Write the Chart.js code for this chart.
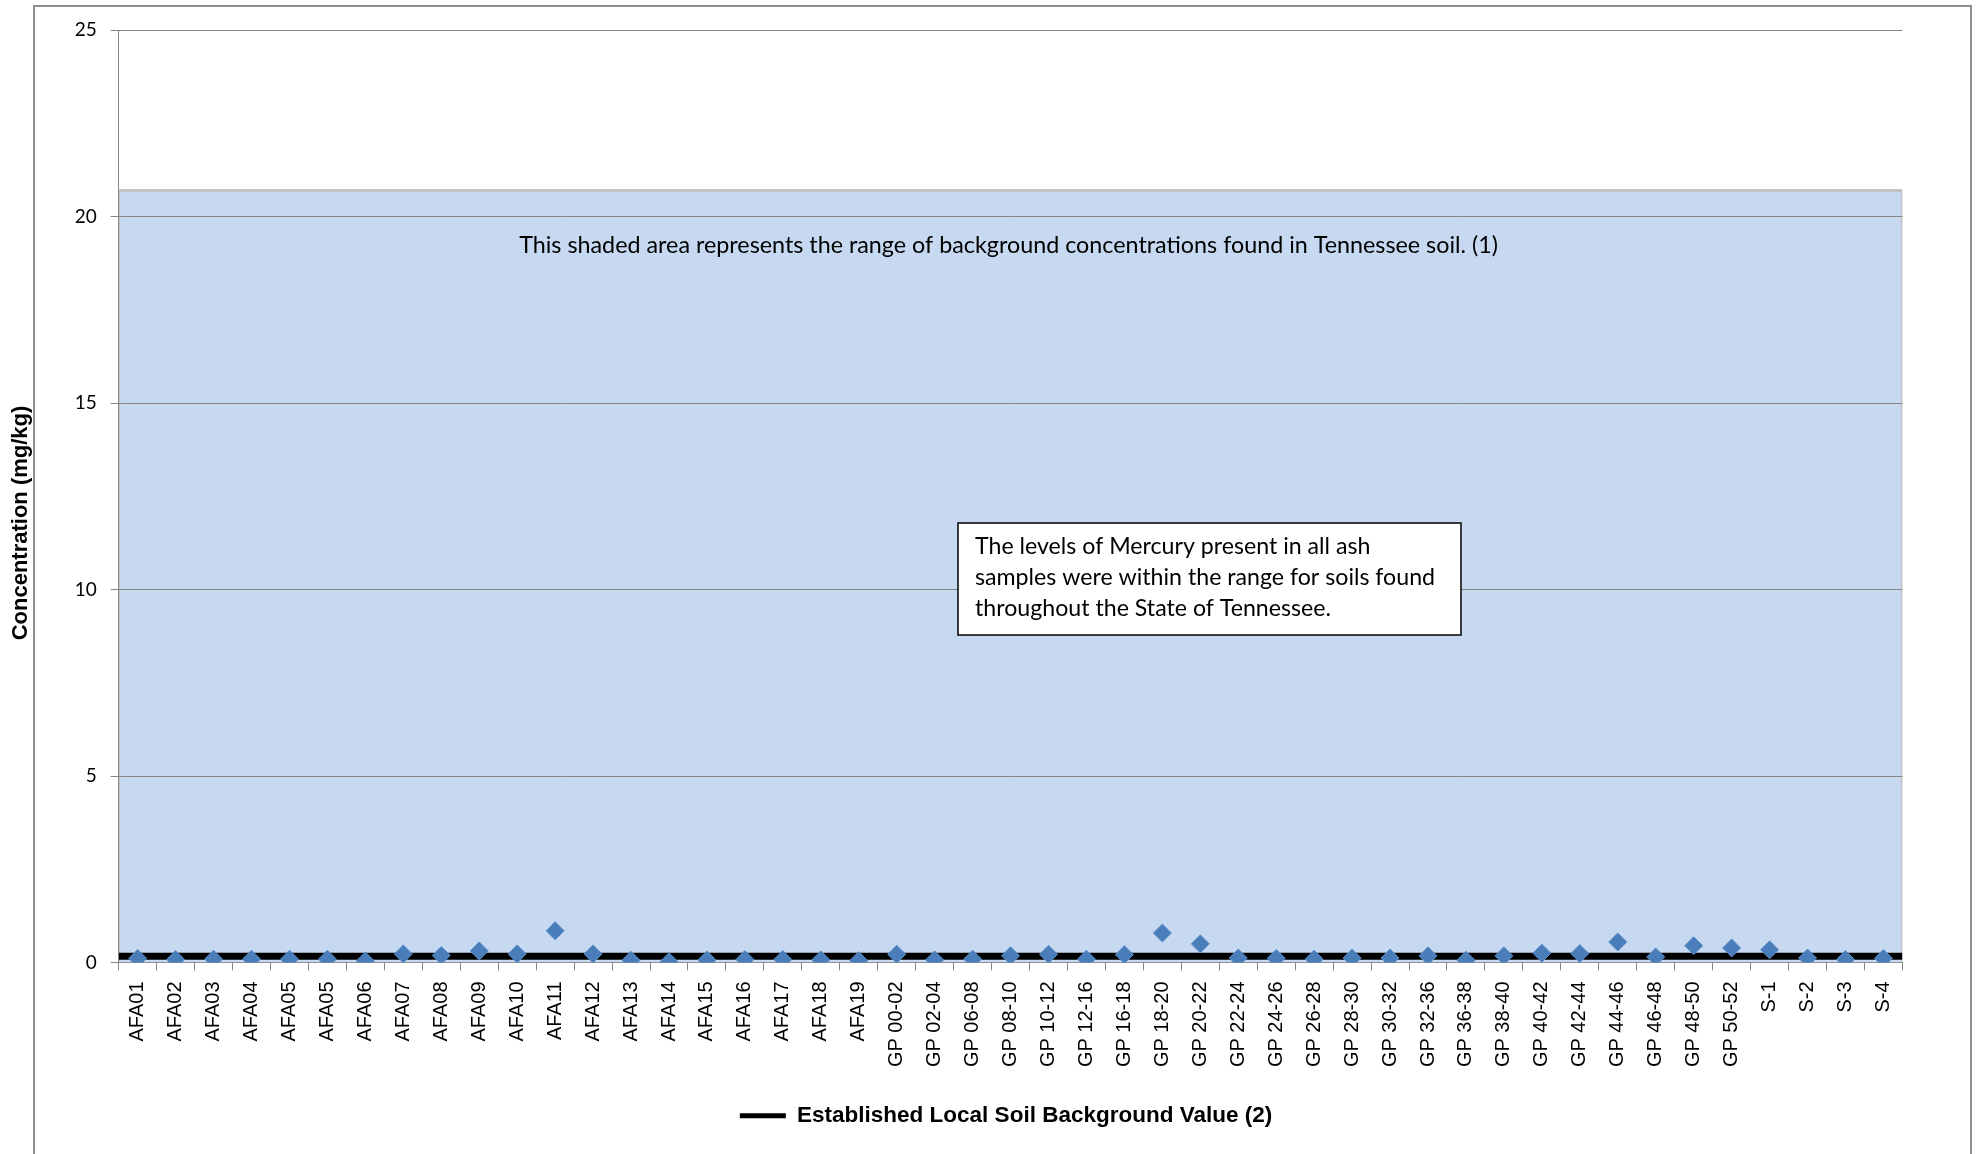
<!DOCTYPE html>
<html>
<head>
<meta charset="utf-8">
<script src="https://cdn.jsdelivr.net/npm/chart.js@4/dist/chart.umd.min.js"></script>
<style>
  html, body { margin: 0; padding: 0; background: #ffffff; }
  #wrap { width: 1979px; height: 1154px; position: relative; }
</style>
</head>
<body>
<div id="wrap"><canvas id="c" width="1979" height="1154"></canvas></div>
<script>
// ---- Data ----
const categories = [
  'AFA01','AFA02','AFA03','AFA04','AFA05','AFA05','AFA06','AFA07','AFA08','AFA09',
  'AFA10','AFA11','AFA12','AFA13','AFA14','AFA15','AFA16','AFA17','AFA18','AFA19',
  'GP 00-02','GP 02-04','GP 06-08','GP 08-10','GP 10-12','GP 12-16','GP 16-18','GP 18-20',
  'GP 20-22','GP 22-24','GP 24-26','GP 26-28','GP 28-30','GP 30-32','GP 32-36','GP 36-38',
  'GP 38-40','GP 40-42','GP 42-44','GP 44-46','GP 46-48','GP 48-50','GP 50-52',
  'S-1','S-2','S-3','S-4'
];
const mercury = [
  0.11, 0.08, 0.09, 0.09, 0.09, 0.09, 0.04, 0.23, 0.19, 0.31,
  0.23, 0.85, 0.23, 0.06, 0.02, 0.07, 0.08, 0.08, 0.07, 0.05,
  0.22, 0.07, 0.09, 0.18, 0.22, 0.09, 0.21, 0.79,
  0.50, 0.12, 0.11, 0.09, 0.12, 0.12, 0.18, 0.06,
  0.18, 0.25, 0.24, 0.55, 0.15, 0.45, 0.39,
  0.34, 0.12, 0.08, 0.11
];
const backgroundValue = 0.17;   // Established Local Soil Background Value (2)
const tennesseeRangeMax = 20.7; // top of shaded range of background concentrations
const yTicks = [0, 5, 10, 15, 20, 25];

const shadedText = 'This shaded area represents the range of background concentrations found in Tennessee soil. (1)';
const noteLines = [
  'The levels of Mercury present in all ash',
  'samples were within the range for soils found',
  'throughout the State of Tennessee.'
];
const legendLabel = 'Established Local Soil Background Value (2)';
const yTitle = 'Concentration (mg/kg)';

// ---- Annotation / frame plugin ----
function fitFont(ctx, text, target, family, weight) {
  ctx.font = (weight || '') + ' 100px ' + family;
  const w = ctx.measureText(text).width;
  return 100 * target / w;
}
const annotations = {
  id: 'annotations',
  beforeDraw(chart) {
    const ctx = chart.ctx;
    ctx.save();
    ctx.fillStyle = '#ffffff';
    ctx.fillRect(0, 0, chart.width, chart.height);
    ctx.restore();
  },
  afterDatasetsDraw(chart) {
    const ctx = chart.ctx;
    const a = chart.chartArea;
    ctx.save();
    const s = fitFont(ctx, shadedText, 979, 'Lato');
    ctx.font = s.toFixed(2) + 'px Lato';
    ctx.fillStyle = '#000000';
    ctx.textAlign = 'center';
    ctx.textBaseline = 'alphabetic';
    ctx.fillText(shadedText, (a.left + a.right) / 2 - 2, 253);
    ctx.restore();
  },
  afterDraw(chart) {
    const ctx = chart.ctx;
    ctx.save();
    // outer frame
    ctx.strokeStyle = '#8e8e8e';
    ctx.lineWidth = 2;
    ctx.beginPath();
    ctx.moveTo(34, 1160);
    ctx.lineTo(34, 6);
    ctx.lineTo(1971, 6);
    ctx.lineTo(1971, 1160);
    ctx.stroke();
    // y-axis title
    ctx.save();
    ctx.translate(21, 523);
    ctx.rotate(-Math.PI / 2);
    ctx.font = 'bold 22px "Liberation Sans"';
    ctx.fillStyle = '#000000';
    ctx.textAlign = 'center';
    ctx.textBaseline = 'middle';
    ctx.fillText(yTitle, 0, 0);
    ctx.restore();
    // note box
    const bx = 958, by = 523, bw = 503, bh = 112;
    ctx.fillStyle = '#ffffff';
    ctx.fillRect(bx, by, bw, bh);
    ctx.strokeStyle = '#000000';
    ctx.lineWidth = 1.5;
    ctx.strokeRect(bx, by, bw, bh);
    const s = fitFont(ctx, noteLines[1], 460, 'Lato');
    ctx.font = s.toFixed(2) + 'px Lato';
    ctx.fillStyle = '#000000';
    ctx.textAlign = 'left';
    ctx.textBaseline = 'alphabetic';
    noteLines.forEach((t, i) => ctx.fillText(t, 975, 554 + i * 31));
    ctx.restore();
  }
};

// ---- Chart ----
const ctx = document.getElementById('c').getContext('2d');
new Chart(ctx, {
  data: {
    labels: categories,
    datasets: [
      {
        type: 'line',
        label: 'Mercury',
        data: mercury,
        xAxisID: 'x',
        yAxisID: 'y',
        showLine: false,
        pointStyle: 'rectRot',
        pointRadius: 9,
        pointHoverRadius: 9,
        pointBackgroundColor: '#4a7ebb',
        pointBorderColor: '#5b8cc8',
        pointBorderWidth: 1,
        order: 0
      },
      {
        type: 'line',
        label: legendLabel,
        data: [{ x: 0, y: backgroundValue }, { x: 1, y: backgroundValue }],
        xAxisID: 'xLin',
        yAxisID: 'y',
        borderColor: '#000000',
        backgroundColor: '#000000',
        borderWidth: 7,
        pointRadius: 0,
        fill: false,
        order: 1
      },
      {
        type: 'line',
        label: 'Tennessee range',
        data: [
          { x: 0, y: 0 }, { x: 0, y: tennesseeRangeMax },
          { x: 1, y: tennesseeRangeMax }, { x: 1, y: 0 }
        ],
        xAxisID: 'xLin',
        yAxisID: 'y',
        backgroundColor: '#c6d9f1',
        borderColor: '#c3c3c3',
        borderWidth: 3,
        pointRadius: 0,
        tension: 0,
        fill: 'origin',
        order: 2
      }
    ]
  },
  options: {
    responsive: false,
    animation: false,
    events: [],
    layout: { padding: { left: 33, right: 0, top: 30, bottom: 17 } },
    plugins: {
      tooltip: { enabled: false },
      legend: {
        display: true,
        position: 'bottom',
        labels: {
          boxWidth: 46,
          boxHeight: 5,
          padding: 10,
          color: '#000000',
          font: { family: 'Liberation Sans', size: 22.5, weight: 'bold' },
          generateLabels(chart) {
            const items = Chart.defaults.plugins.legend.labels.generateLabels(chart);
            return items.filter(it => it.datasetIndex === 1)
              .map(it => Object.assign(it, { lineWidth: 0, fillStyle: '#000000', strokeStyle: '#000000' }));
          }
        }
      }
    },
    scales: {
      x: {
        type: 'category',
        position: 'bottom',
        offset: true,
        grid: {
          offset: true,
          drawOnChartArea: false,
          drawTicks: true,
          tickLength: 8,
          color: '#868686'
        },
        border: { display: true, color: '#868686', width: 1 },
        ticks: {
          autoSkip: false,
          minRotation: 90,
          maxRotation: 90,
          padding: 11,
          color: '#000000',
          font: { family: 'Liberation Sans', size: 20 }
        },
        afterFit(scale) { scale.height = 132; }
      },
      xLin: {
        type: 'linear',
        min: 0,
        max: 1,
        display: false
      },
      y: {
        type: 'linear',
        position: 'left',
        min: yTicks[0],
        max: yTicks[yTicks.length - 1],
        afterBuildTicks(scale) { scale.ticks = yTicks.map(v => ({ value: v })); },
        grid: {
          z: 1,
          color: (c) => (c.tick && c.tick.value === 0) ? 'rgba(0,0,0,0)' : '#868686',
          tickColor: '#868686',
          tickLength: 8,
          lineWidth: 1
        },
        border: { display: true, color: '#868686', width: 1, z: 1 },
        ticks: {
          padding: 14,
          color: '#000000',
          font: { family: 'Lato', size: 19 }
        },
        title: { display: false },
        afterFit(scale) { scale.width = 85.7; }
      },
      yR: {
        type: 'linear',
        position: 'right',
        display: true,
        grid: { display: false, drawTicks: false },
        border: { display: false },
        ticks: { display: false },
        afterFit(scale) { scale.width = 76.6; }
      }
    }
  },
  plugins: [annotations]
});
</script>
</body>
</html>
